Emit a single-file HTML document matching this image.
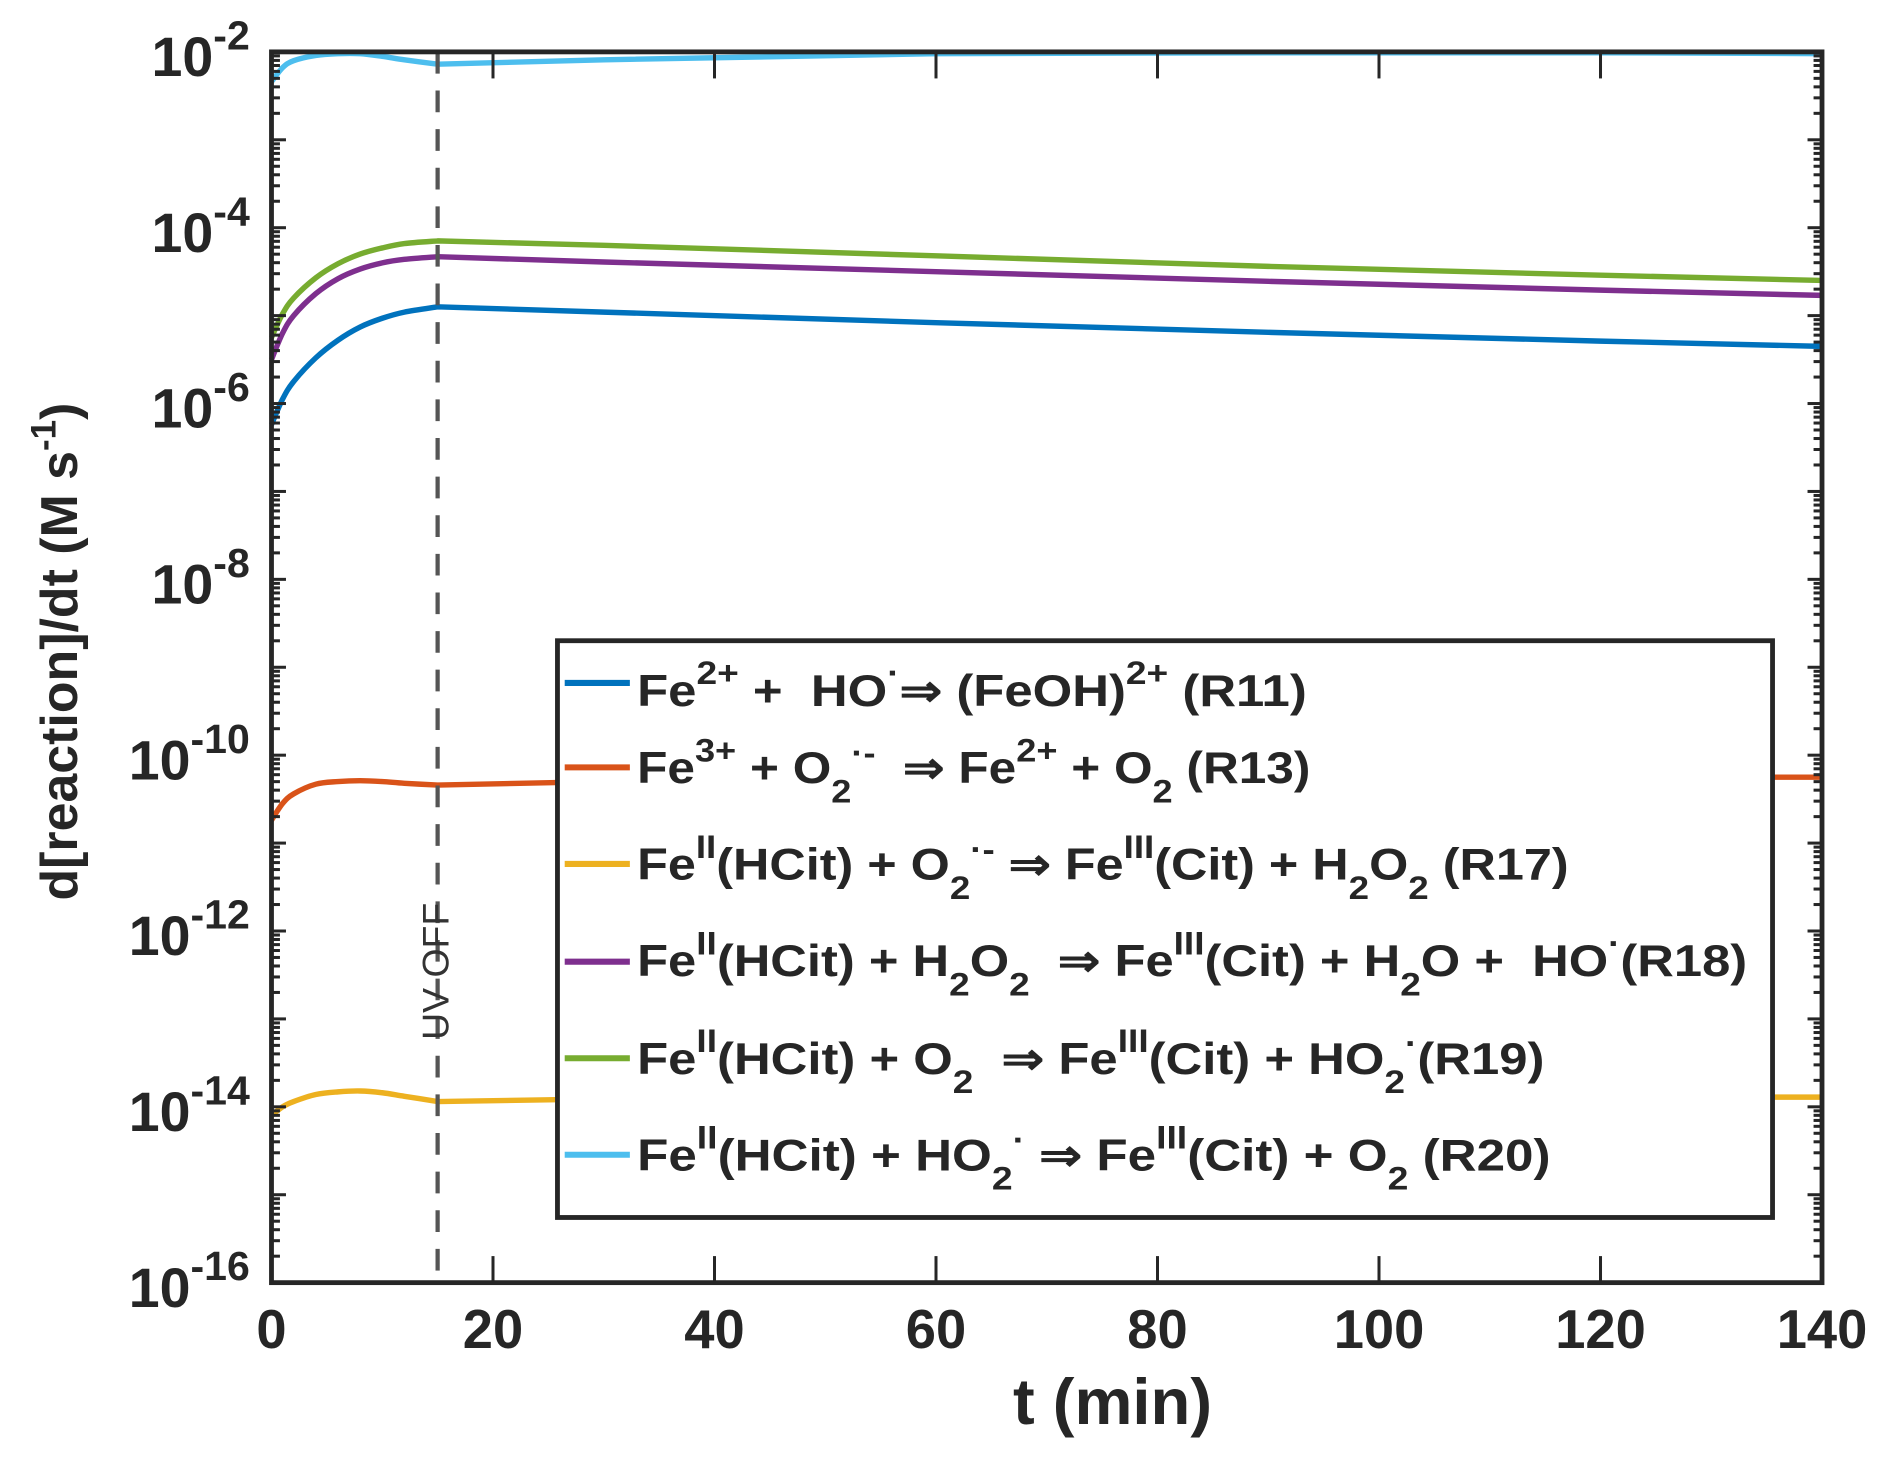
<!DOCTYPE html>
<html><head><meta charset="utf-8">
<style>
html,body{margin:0;padding:0;background:#fff;}
svg{display:block;}
text{font-family:"Liberation Sans",Arial,sans-serif;fill:#262626;}
</style></head>
<body>
<svg id="chart" width="1892" height="1457" viewBox="0 0 1568 1207.5" xmlns="http://www.w3.org/2000/svg">
<g id="plot"></g>
<text x="922" y="1180" font-size="54" font-weight="bold" text-anchor="middle">t (min)</text>
<text transform="translate(64,540) rotate(-90)" font-size="43" font-weight="bold" text-anchor="middle">d[reaction]/dt (M s<tspan dy="-18" font-size="29">-1</tspan><tspan dy="18">)</tspan></text>
<g>
<rect x="462" y="531" width="1007" height="478" fill="#fff" stroke="#262626" stroke-width="4"/>
<g font-size="37" font-weight="bold">
<line x1="468" y1="566" x2="522" y2="566" stroke="#0072BD" stroke-width="5"/>
<text x="528" y="585" textLength="555" lengthAdjust="spacingAndGlyphs">Fe<tspan dy="-18" font-size="27">2+</tspan><tspan dy="18"> + &#160;HO</tspan><tspan dy="-18" font-size="27">·</tspan><tspan dy="18">⇒ (FeOH)</tspan><tspan dy="-18" font-size="27">2+</tspan><tspan dy="18"> (R11)</tspan></text>
<line x1="468" y1="636" x2="522" y2="636" stroke="#D95319" stroke-width="5"/>
<text x="528" y="649" textLength="558" lengthAdjust="spacingAndGlyphs">Fe<tspan dy="-18" font-size="27">3+</tspan><tspan dy="18"> + O</tspan><tspan dy="16" font-size="27">2</tspan><tspan dy="-32" font-size="27">·-</tspan><tspan dy="16"> &#160;⇒ Fe</tspan><tspan dy="-18" font-size="27">2+</tspan><tspan dy="18"> + O</tspan><tspan dy="16" font-size="27">2</tspan><tspan dy="-16"> (R13)</tspan></text>
<line x1="468" y1="716" x2="522" y2="716" stroke="#EDB120" stroke-width="5"/>
<text x="528" y="729" textLength="772" lengthAdjust="spacingAndGlyphs">Fe<tspan dy="-18" font-size="27">II</tspan><tspan dy="18">(HCit) + O</tspan><tspan dy="16" font-size="27">2</tspan><tspan dy="-32" font-size="27">·-</tspan><tspan dy="16"> ⇒ Fe</tspan><tspan dy="-18" font-size="27">III</tspan><tspan dy="18">(Cit) + H</tspan><tspan dy="16" font-size="27">2</tspan><tspan dy="-16">O</tspan><tspan dy="16" font-size="27">2</tspan><tspan dy="-16"> (R17)</tspan></text>
<line x1="468" y1="797" x2="522" y2="797" stroke="#7E2F8E" stroke-width="5"/>
<text x="528" y="809" textLength="920" lengthAdjust="spacingAndGlyphs">Fe<tspan dy="-18" font-size="27">II</tspan><tspan dy="18">(HCit) + H</tspan><tspan dy="16" font-size="27">2</tspan><tspan dy="-16">O</tspan><tspan dy="16" font-size="27">2</tspan><tspan dy="-16"> &#160;⇒ Fe</tspan><tspan dy="-18" font-size="27">III</tspan><tspan dy="18">(Cit) + H</tspan><tspan dy="16" font-size="27">2</tspan><tspan dy="-16">O + &#160;HO</tspan><tspan dy="-18" font-size="27">·</tspan><tspan dy="18">(R18)</tspan></text>
<line x1="468" y1="877" x2="522" y2="877" stroke="#77AC30" stroke-width="5"/>
<text x="528" y="890" textLength="752" lengthAdjust="spacingAndGlyphs">Fe<tspan dy="-18" font-size="27">II</tspan><tspan dy="18">(HCit) + O</tspan><tspan dy="16" font-size="27">2</tspan><tspan dy="-16"> &#160;⇒ Fe</tspan><tspan dy="-18" font-size="27">III</tspan><tspan dy="18">(Cit) + HO</tspan><tspan dy="16" font-size="27">2</tspan><tspan dy="-32" font-size="27">·</tspan><tspan dy="16">(R19)</tspan></text>
<line x1="468" y1="957" x2="522" y2="957" stroke="#4DBEEE" stroke-width="5"/>
<text x="528" y="970" textLength="757" lengthAdjust="spacingAndGlyphs">Fe<tspan dy="-18" font-size="27">II</tspan><tspan dy="18">(HCit) + HO</tspan><tspan dy="16" font-size="27">2</tspan><tspan dy="-32" font-size="27">·</tspan><tspan dy="16"> ⇒ Fe</tspan><tspan dy="-18" font-size="27">III</tspan><tspan dy="18">(Cit) + O</tspan><tspan dy="16" font-size="27">2</tspan><tspan dy="-16"> (R20)</tspan></text>
</g>
</g>
</svg>
<script>
const tGrid = [0,1,2,4,6,8,10,12,15,30,60,90,120,140];
const r11 = [-6.24,-5.95,-5.75,-5.48,-5.28,-5.13,-5.03,-4.96,-4.9,-4.96,-5.08,-5.19,-5.29,-5.35];
const r13 = [-10.74,-10.55,-10.44,-10.33,-10.3,-10.29,-10.3,-10.32,-10.34,-10.3,-10.27,-10.26,-10.25,-10.25];
const r17 = [-14.1,-14.0,-13.94,-13.86,-13.83,-13.82,-13.84,-13.88,-13.94,-13.91,-13.9,-13.89,-13.89,-13.89];
const r18 = [-5.5,-5.2,-5.0,-4.75,-4.58,-4.47,-4.4,-4.36,-4.33,-4.39,-4.5,-4.61,-4.71,-4.77];
const r19 = [-5.25,-4.98,-4.8,-4.57,-4.41,-4.3,-4.23,-4.18,-4.15,-4.2,-4.32,-4.44,-4.54,-4.6];
const r20 = [-2.34,-2.18,-2.1,-2.04,-2.02,-2.02,-2.05,-2.09,-2.14,-2.09,-2.02,-2.01,-2.01,-2.02];
const seriesColors = ['#0072BD','#D95319','#EDB120','#7E2F8E','#77AC30','#4DBEEE'];
const seriesNames = ['series-r11','series-r13','series-r17','series-r18','series-r19','series-r20'];
const xTicks = [0,20,40,60,80,100,120,140];
const yTickExps = [-16,-14,-12,-10,-8,-6,-4,-2];
const uvOffTime = 15;

const L=225,R=1510,T=43,B=1063;
const xMin=0,xMax=140,yMin=-16,yMax=-2;
const sx=t=>L+(t-xMin)/(xMax-xMin)*(R-L);
const sy=e=>B-(e-yMin)/(yMax-yMin)*(B-T);
const NS='http://www.w3.org/2000/svg';
const g=document.getElementById('plot');
function mk(tag,attrs){const e=document.createElementNS(NS,tag);for(const k in attrs)e.setAttribute(k,attrs[k]);g.appendChild(e);return e;}

function pathFor(vals){
  const p=tGrid.map((t,i)=>[sx(t),sy(vals[i])]);
  let d='M'+p[0][0]+','+p[0][1];
  for(let i=0;i<p.length-1;i++){
    if(tGrid[i]>=uvOffTime){d+=' L'+p[i+1][0]+','+p[i+1][1];continue;}
    const p0=p[Math.max(0,i-1)],p1=p[i],p2=p[i+1],p3=tGrid[i+1]===uvOffTime?p[i+1]:p[Math.min(p.length-1,i+2)];
    const c1=[p1[0]+(p2[0]-p0[0])/6,p1[1]+(p2[1]-p0[1])/6];
    const c2=[p2[0]-(p3[0]-p1[0])/6,p2[1]-(p3[1]-p1[1])/6];
    d+=' C'+c1+' '+c2+' '+p2;
  }
  return d;
}
const all=[r11,r13,r17,r18,r19,r20];
all.forEach((vals,i)=>{
  const e=mk('path',{d:pathFor(vals),fill:'none',stroke:seriesColors[i],'stroke-width':4.5});
  
  
});

const uv=mk('line',{x1:sx(uvOffTime),x2:sx(uvOffTime),y1:T,y2:B,stroke:'#555','stroke-width':3.5,'stroke-dasharray':'18,14'});


const uvt=mk('text',{transform:'translate('+(sx(uvOffTime)+9)+',805) rotate(-90)','font-size':31,'text-anchor':'middle',style:'fill:#333'});
uvt.textContent='UV OFF';



xTicks.forEach(t=>{
  const x=sx(t);
  const a=mk('line',{x1:x,x2:x,y1:B,y2:B-22,stroke:'#262626','stroke-width':2.5});
  
  
  const b=mk('line',{x1:x,x2:x,y1:T,y2:T+22,stroke:'#262626','stroke-width':2.5});
  
  
  const tx=mk('text',{x:x,y:B+54,'font-size':45,'font-weight':'bold','text-anchor':'middle'});
  tx.textContent=t;
  
  
});
for(let e=yMin;e<=yMax;e++){
  [[L,1],[R,-1]].forEach(([x0,dir])=>{
    const m=mk('line',{x1:x0,x2:x0+dir*12,y1:sy(e),y2:sy(e),stroke:'#262626','stroke-width':2.5});
    
    
    if(e<yMax){for(let k=2;k<=9;k++){const y=sy(e+Math.log10(k));
      const n=mk('line',{x1:x0,x2:x0+dir*7,y1:y,y2:y,stroke:'#262626','stroke-width':2.5});
      
      }}
  });
}
yTickExps.forEach(e=>{
  const tx=mk('text',{x:207,y:sy(e)+20,'font-size':46,'font-weight':'bold','text-anchor':'end'});
  tx.innerHTML='10<tspan dy="-22" font-size="34">'+e+'</tspan>';
  
  
});
const box=mk('rect',{x:L,y:T,width:R-L,height:B-T,fill:'none',stroke:'#262626','stroke-width':4});


</script>
</body></html>
